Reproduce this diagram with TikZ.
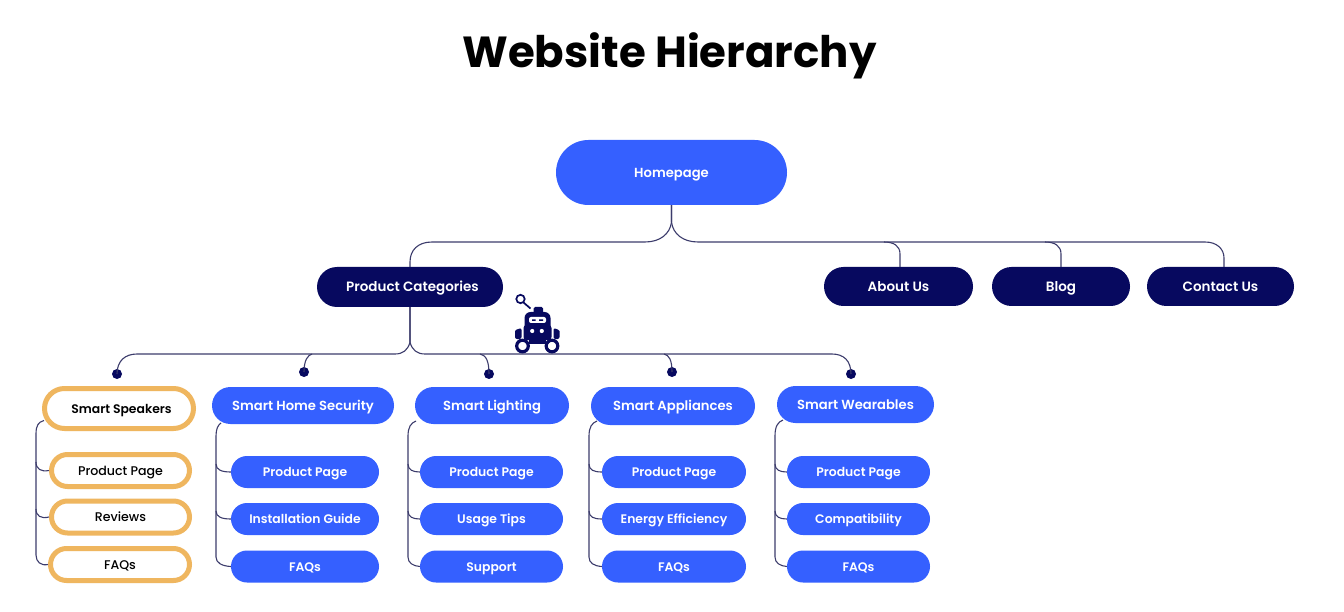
\documentclass[tikz,border=0pt]{standalone}
\usepackage{fontspec}
\setmainfont{Poppins}
\definecolor{pblue}{HTML}{3560FF}
\definecolor{pnavy}{HTML}{07095F}
\definecolor{porange}{HTML}{EFB65F}
\definecolor{pline}{HTML}{3C3C6C}
\tikzset{
  pill/.style n args={2}{rectangle,rounded corners=#2*0.5pt-0.01pt,minimum width=#1*1pt,minimum height=#2*1pt,inner sep=0pt,align=center,text height=11pt,text depth=1.6pt},
  bluepill/.style={fill=pblue,text=white,font=\fontsize{13.15}{16}\selectfont\fontspec{Poppins SemiBold}},
  subpill/.style={fill=pblue,text=white,font=\fontsize{12.4}{16}\selectfont\fontspec{Poppins SemiBold}},
  navypill/.style={fill=pnavy,text=white,font=\fontsize{13.5}{16}\selectfont\fontspec{Poppins SemiBold}},
  orangepill/.style={draw=porange,line width=5pt,fill=white,text=black,font=\fontsize{12.6}{16}\selectfont\fontspec{Poppins Medium}},
  conn/.style={draw=pline,line width=1.1pt},
  tipdot/.style={circle,fill=pnavy,minimum size=10pt,inner sep=0pt},
  robot/.style={fill=pnavy,draw=none}
}
\newcommand{\pillnode}[7]{\node[pill={#5}{#6},#7] (#1) at (#2,#3) {#4};}
\begin{document}
\begin{tikzpicture}[x=1pt,y=-1pt]
\useasboundingbox (0,0) rectangle (1344,612);
\fill[white] (0,0) rectangle (1344,612);
\node[font=\fontsize{43.5}{50}\selectfont\bfseries,text=black] (title) at (669.5,56) {Website Hierarchy};

\pillnode{home}{671.5}{172.5}{Homepage}{231}{65}{bluepill}
\pillnode{cat}{410}{287}{\hspace{5pt}Product Categories}{186}{40}{navypill}
\pillnode{about}{898.5}{286.5}{About Us}{149}{39}{navypill}
\pillnode{blog}{1061}{286.5}{Blog}{138}{39}{navypill}
\pillnode{contact}{1220.5}{286.5}{Contact Us}{147}{39}{navypill}

\pillnode{spk}{119}{408.5}{\hspace{5pt}\fontspec{Poppins SemiBold}\fontsize{12.4}{16}\selectfont Smart Speakers}{149}{40}{orangepill}
\pillnode{sec}{303}{405.5}{Smart Home Security}{182}{37}{bluepill}
\pillnode{lig}{492}{405.5}{Smart Lighting}{154}{37}{bluepill}
\pillnode{app}{673}{406}{Smart Appliances}{164}{38}{bluepill}
\pillnode{wea}{855.5}{404.5}{Smart Wearables}{157}{37}{bluepill}

\pillnode{spka}{120.5}{470.5}{Product Page}{138}{32}{orangepill}
\pillnode{spkb}{120.5}{517}{Reviews}{138}{32}{orangepill}
\pillnode{spkc}{120}{564.5}{FAQs}{139}{32}{orangepill}

\pillnode{seca}{305}{472}{Product Page}{148}{32}{subpill}
\pillnode{secb}{305}{519}{Installation Guide}{148}{32}{subpill}
\pillnode{secc}{305}{566.5}{FAQs}{148}{32}{subpill}

\pillnode{liga}{491.5}{472}{Product Page}{143}{32}{subpill}
\pillnode{ligb}{491.5}{519}{Usage Tips}{143}{32}{subpill}
\pillnode{ligc}{491.5}{566.5}{Support}{143}{32}{subpill}

\pillnode{appa}{674}{472}{Product Page}{144}{32}{subpill}
\pillnode{appb}{674}{519}{Energy Efficiency}{144}{32}{subpill}
\pillnode{appc}{674}{566.5}{FAQs}{144}{32}{subpill}

\pillnode{weaa}{858.5}{472}{Product Page}{143}{32}{subpill}
\pillnode{weab}{858.5}{519}{Compatibility}{143}{32}{subpill}
\pillnode{weac}{858.5}{566.5}{FAQs}{143}{32}{subpill}

\node[tipdot] (d1) at (117,374) {};
\node[tipdot] (d2) at (304,372) {};
\node[tipdot] (d3) at (489,374) {};
\node[tipdot] (d4) at (672,372) {};
\node[tipdot] (d5) at (851,374) {};

% top level
\draw[conn] (home.south) -- (671.5,222) .. controls (670,234) and (660,242) .. (645,242) -- (432,242) .. controls (418,242) and (410,250) .. (410,262) -- (cat.north);
\draw[conn] (home.south) -- (671.5,222) .. controls (673,234) and (683,242) .. (698,242) -- (1205,242) .. controls (1217,242) and (1224,249) .. (1224,258) -- (contact.north -| 1224,0);
\draw[conn] (884,242) .. controls (894,242) and (900,246) .. (900,254) -- (about.north -| 900,0);
\draw[conn] (1045,242) .. controls (1055,242) and (1061,246) .. (1061,254) -- (blog.north);

% second level
\draw[conn] (cat.south) -- (410,342) .. controls (408,350) and (403,354) .. (395,354) -- (137,354) .. controls (125,354) and (117,361) .. (d1.center);
\draw[conn] (cat.south) -- (410,342) .. controls (412,350) and (417,354) .. (425,354) -- (832,354) .. controls (844,354) and (851,361) .. (d5.center);
\draw[conn] (312,354) .. controls (308,355) and (304,360) .. (d2.center);
\draw[conn] (480,354) .. controls (486,355) and (489,361) .. (d3.center);
\draw[conn] (664,354) .. controls (669,355) and (672,360) .. (d4.center);

% Smart Speakers tree
\draw[conn] (44,420.5) .. controls (38,422) and (36,426) .. (36,434) -- (36,555) .. controls (36,562) and (41,566) .. (spkc.west);
\draw[conn] (36,462) .. controls (36,469) and (41,472) .. (spka.west);
\draw[conn] (36,509) .. controls (36,516) and (41,519) .. (spkb.west);
% Security tree
\draw[conn] (221,423) .. controls (218,425) and (216,429) .. (216,436) -- (216,557) .. controls (216,563) and (222,566) .. (secc.west);
\draw[conn] (216,464) .. controls (216,470) and (222,472) .. (seca.west);
\draw[conn] (216,511) .. controls (216,517) and (222,519) .. (secb.west);
% Lighting tree
\draw[conn] (416,421) .. controls (411,423) and (408,427) .. (408,436) -- (408,557) .. controls (408,563) and (413,566) .. (ligc.west);
\draw[conn] (408,464) .. controls (408,470) and (413,472) .. (liga.west);
\draw[conn] (408,511) .. controls (408,517) and (413,519) .. (ligb.west);
% Appliances tree
\draw[conn] (597,421) .. controls (592,423) and (589,427) .. (589,436) -- (589,557) .. controls (589,563) and (594,566) .. (appc.west);
\draw[conn] (589,464) .. controls (589,470) and (594,472) .. (appa.west);
\draw[conn] (589,511) .. controls (589,517) and (594,519) .. (appb.west);
% Wearables tree
\draw[conn] (783,420) .. controls (778,422) and (775,426) .. (775,436) -- (775,557) .. controls (775,563) and (780,566) .. (weac.west);
\draw[conn] (775,464) .. controls (775,470) and (780,472) .. (weaa.west);
\draw[conn] (775,511) .. controls (775,517) and (780,519) .. (weab.west);

% robot
\draw[pnavy,line width=1.7pt,fill=white] (520.5,299) circle (4.2);
\draw[pnavy,line width=1.7pt] (523.5,302.5) -- (530.5,308.5);
\fill[robot,rounded corners=1.5pt] (533.5,307) rectangle (543,314);
\fill[robot,rounded corners=6pt] (524.5,312) rectangle (550.5,332);
\fill[robot,rounded corners=3pt] (523.5,325) rectangle (551.5,340);
\fill[white,rounded corners=2pt] (529,317) rectangle (546,323);
\fill[robot] (532,319.3) rectangle (535.5,321) (539,319.3) rectangle (543,321);
\fill[white] (532.2,331) circle (2.1) (541.8,331) circle (2.1);
\fill[robot,rounded corners=2pt] (515,339) -- (515,333) .. controls (515,330) and (518,329) .. (521.5,328) -- (521.5,339) -- cycle;
\fill[robot,rounded corners=2pt] (559.5,339) -- (559.5,333) .. controls (559.5,330) and (556.5,329) .. (553.5,328) -- (553.5,339) -- cycle;
\fill[robot] (529,339) rectangle (546,344);
\draw[pnavy,line width=3.2pt,fill=white] (522.5,346) circle (5.8);
\draw[pnavy,line width=3.2pt,fill=white] (552,346) circle (5.8);
\end{tikzpicture}
\end{document}
